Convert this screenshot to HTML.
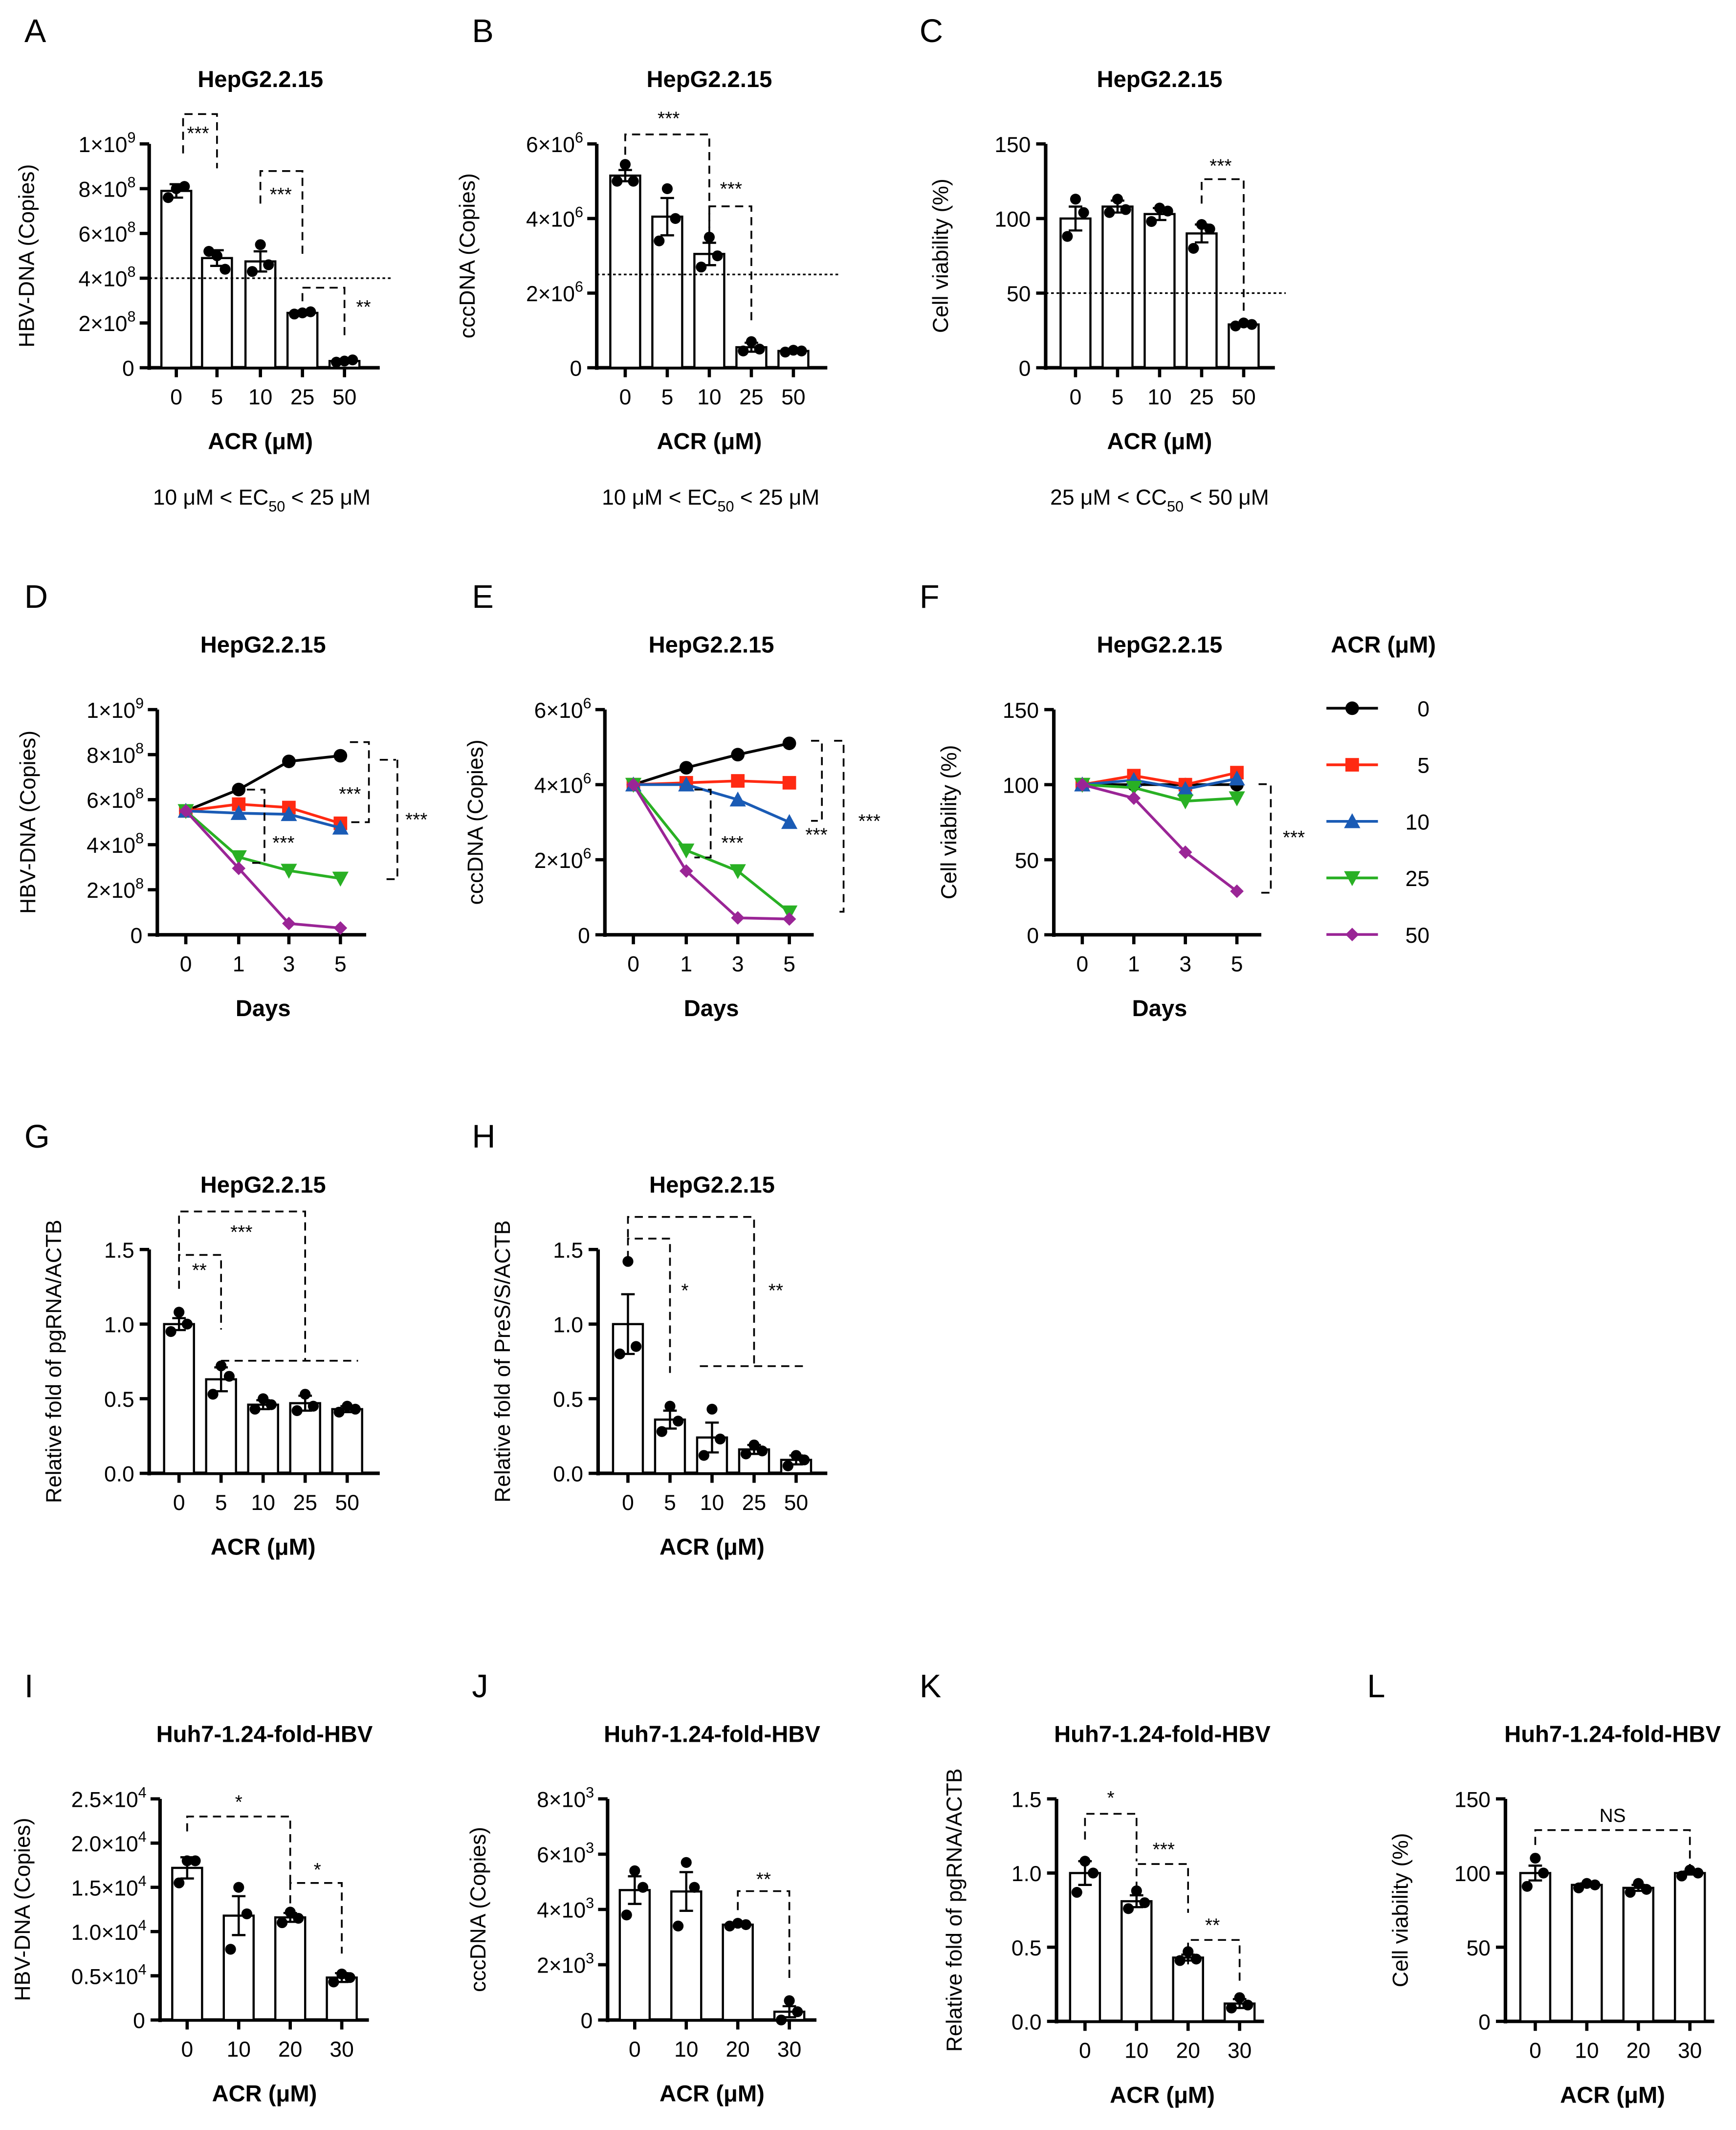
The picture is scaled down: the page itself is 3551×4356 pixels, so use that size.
<!DOCTYPE html>
<html><head><meta charset="utf-8"><style>
html,body{margin:0;padding:0;background:#fff;}
svg{display:block;font-family:"Liberation Sans",Arial,sans-serif;}
</style></head><body>
<svg id="fig" width="3551" height="4356" viewBox="0 0 1280 1570" xmlns="http://www.w3.org/2000/svg"></svg>
<script>
// ---------- DATA ----------
const doses5 = ["0","5","10","25","50"];
const doses4 = ["0","10","20","30"];
const days = ["0","1","3","5"];
const seriesNames = ["0","5","10","25","50"];
const seriesColors = ["#000000","#ff2a12","#1a5bb5","#29b024","#9a2596"];
const seriesMarkers = ["circle","square","triUp","triDown","diamond"];

const aMeans = [7.9, 4.9, 4.75, 2.45, 0.3];       // x1e8
const aErr   = [0.3, 0.35, 0.45, 0.1, 0.05];
const aPts   = [[7.6,8.1,8.0],[5.2,4.4,5.0],[4.3,4.6,5.5],[2.4,2.5,2.45],[0.25,0.35,0.3]];
const bMeans = [5.15, 4.05, 3.05, 0.55, 0.45];    // x1e6
const bErr   = [0.15, 0.5, 0.3, 0.12, 0.03];
const bPts   = [[5.0,5.0,5.45],[3.4,4.0,4.8],[2.7,3.0,3.5],[0.45,0.5,0.7],[0.42,0.45,0.47]];
const cMeans = [100, 108, 103, 90, 29];
const cErr   = [8, 4, 4, 6, 1];
const cPts   = [[88,104,113],[104,106,113],[98,105,107],[80,93,96],[28,29,30]];
const dLines = [[5.5,6.45,7.7,7.95],[5.5,5.8,5.65,4.95],[5.5,5.4,5.35,4.75],[5.5,3.45,2.85,2.5],[5.5,2.95,0.5,0.3]];
const eLines = [[4.0,4.45,4.8,5.1],[4.0,4.05,4.1,4.05],[4.0,4.0,3.6,3.0],[4.0,2.25,1.7,0.6],[4.0,1.7,0.45,0.42]];
const fLines = [[100,100,100,100],[100,106,100,108],[100,103,97,104],[100,98,89,91],[100,91,55,29]];
const gMeans = [1.0, 0.63, 0.46, 0.47, 0.43];
const gErr   = [0.04, 0.08, 0.03, 0.05, 0.02];
const gPts   = [[0.95,1.0,1.08],[0.53,0.65,0.72],[0.43,0.46,0.5],[0.42,0.45,0.53],[0.41,0.43,0.45]];
const hMeans = [1.0, 0.36, 0.24, 0.16, 0.09];
const hErr   = [0.2, 0.06, 0.1, 0.03, 0.03];
const hPts   = [[0.8,0.85,1.42],[0.28,0.35,0.45],[0.12,0.23,0.43],[0.13,0.15,0.19],[0.05,0.09,0.12]];
const iMeans = [1.72, 1.18, 1.16, 0.48];           // x1e4
const iErr   = [0.12, 0.22, 0.05, 0.05];
const iPts   = [[1.55,1.8,1.8],[0.8,1.2,1.5],[1.1,1.15,1.22],[0.43,0.48,0.52]];
const jMeans = [4.7, 4.65, 3.45, 0.3];             // x1e3
const jErr   = [0.5, 0.7, 0.05, 0.2];
const jPts   = [[3.8,4.8,5.4],[3.4,4.8,5.7],[3.4,3.45,3.5],[0,0.3,0.7]];
const kMeans = [1.0, 0.81, 0.43, 0.12];
const kErr   = [0.08, 0.04, 0.02, 0.03];
const kPts   = [[0.87,1.0,1.08],[0.76,0.8,0.88],[0.41,0.42,0.47],[0.09,0.11,0.16]];
const lMeans = [100, 92, 90, 100];
const lErr   = [5, 1, 2, 1];
const lPts   = [[91,100,110],[90,92,93],[87,89,93],[98,100,102]];

// ---------- HELPERS ----------
const NS="http://www.w3.org/2000/svg";
const svg=document.getElementById('fig');
function mk(tag,attrs,parent){const e=document.createElementNS(NS,tag);for(const k in attrs)e.setAttribute(k,attrs[k]);(parent||svg).appendChild(e);return e;}
function txt(x,y,s,opts,parent){opts=opts||{};const t=mk('text',{x:x,y:y,'font-size':opts.size||16,'text-anchor':opts.anchor||'middle','font-weight':opts.bold?'bold':'normal',fill:'#000'},parent);
 if(opts.rot)t.setAttribute('transform','rotate(-90 '+x+' '+y+')');t.textContent=s;return t;}
function sciLabel(x,y,m,e,parent){const t=mk('text',{x:x,y:y,'font-size':16,'text-anchor':'end'},parent);
 t.appendChild(document.createTextNode(m+'×10'));const s=mk('tspan',{'font-size':11,dy:-7},t);s.textContent=e;
 return t;}
function marker(g,type,x,y,c){let e;
 if(type==='circle')e=mk('circle',{cx:x,cy:y,r:5,fill:c},g);
 else if(type==='square')e=mk('rect',{x:x-5,y:y-5,width:10,height:10,fill:c},g);
 else if(type==='triUp')e=mk('polygon',{points:`${x},${y-6} ${x+6},${y+5} ${x-6},${y+5}`,fill:c},g);
 else if(type==='triDown')e=mk('polygon',{points:`${x},${y+6} ${x+6},${y-5} ${x-6},${y-5}`,fill:c},g);
 else e=mk('polygon',{points:`${x},${y-5} ${x+5},${y} ${x},${y+5} ${x-5},${y}`,fill:c},g);
 }
function bracket(g,pts,label,lx,ly){mk('polyline',{points:pts,fill:'none',stroke:'#000','stroke-width':1.3,'stroke-dasharray':'6,4'},g);
 if(label){const t=txt(lx,ly,label,{size:14},g);}}

function axes(g,c){
 const yS=v=>c.y0-(v-c.min)/(c.max-c.min)*(c.y0-c.y1);
 const ax=mk('line',{x1:c.ax,y1:c.y1,x2:c.ax,y2:c.y0+1.5,stroke:'#000','stroke-width':2.6},g);
 
 const bx=mk('line',{x1:c.ax-1.3,y1:c.y0,x2:c.xEnd,y2:c.y0,stroke:'#000','stroke-width':2.6},g);
 
 c.ticks.forEach((tv,i)=>{const y=yS(tv);mk('line',{x1:c.ax-7,y1:y,x2:c.ax,y2:y,stroke:'#000','stroke-width':2.4},g);
  const lab=c.tickLabels[i];
  if(Array.isArray(lab)){ if(lab[0]==='0'){const t=txt(c.ax-11,y+6,'0',{anchor:'end'},g);} else sciLabel(c.ax-10,y+6,lab[0],lab[1],g);}
  else {const t=txt(c.ax-11,y+6,lab,{anchor:'end'},g);}
 });
 c.xs.forEach((x,i)=>{mk('line',{x1:x,y1:c.y0,x2:x,y2:c.y0+7,stroke:'#000','stroke-width':2.4},g);
  const t=txt(x,c.y0+27,c.cats[i],{},g);});
 const yt=txt(c.ax-c.ylOff,(c.y0+c.y1)/2,c.ylabel,{size:16,rot:true},g);
 
 const xt=txt((c.xs[0]+c.xs[c.xs.length-1])/2,c.y0+60,c.xlabel,{size:17,bold:true},g);
 
 const tt=txt((c.xs[0]+c.xs[c.xs.length-1])/2,c.y1-42,c.title,{size:17,bold:true},g);
 
 const pl=txt(c.letterX,c.y1-75,c.letter,{size:24,anchor:'start'},g);
 
 return yS;
}
function barPanel(name,c,means,errs,pts){
 const g=mk('g',{});
 const yS=axes(g,c);
 means.forEach((m,i)=>{const x=c.xs[i];const w=22;
  const b=mk('rect',{x:x-w/2,y:yS(m),width:w,height:c.y0-yS(m),fill:'#fff',stroke:'#000','stroke-width':1.6},g);
  
  const e=errs[i];
  mk('path',{d:`M${x} ${yS(m)} V${yS(m+e)} M${x-5} ${yS(m+e)} H${x+5} M${x} ${yS(m)} V${yS(Math.max(c.min,m-e))} M${x-5} ${yS(Math.max(c.min,m-e))} H${x+5}`,stroke:'#000','stroke-width':1.6,fill:'none'},g);
  const offs=[-6,0,6];
  pts[i].forEach((p,k)=>{const d=mk('circle',{cx:x+offs[[0,2,1][k]]*1.0,cy:yS(p),r:4,fill:'#000'},g);});
 });
 if(c.ref!==undefined){const l=mk('line',{x1:c.ax,y1:yS(c.ref),x2:c.xEnd+8,y2:yS(c.ref),stroke:'#000','stroke-width':1.2,'stroke-dasharray':'2,2'},g);
  }
 return g;
}
function linePanel(name,c,lines){
 const g=mk('g',{});
 const yS=axes(g,c);
 lines.forEach((vals,s)=>{const col=seriesColors[s];
  const p=mk('polyline',{points:vals.map((v,i)=>c.xs[i]+','+yS(v)).join(' '),fill:'none',stroke:col,'stroke-width':2},g);
  
  vals.forEach((v,i)=>marker(g,seriesMarkers[s],c.xs[i],yS(v),col));
 });
 return g;
}

// ---------- PANELS ----------
const sc8=[['0'],['2','8'],['4','8'],['6','8'],['8','8'],['1','9']];
const sc6=[['0'],['2','6'],['4','6'],['6','6']];
const gA=barPanel('panel-a',{ax:110,y0:271,y1:106,min:0,max:10,ticks:[0,2,4,6,8,10],tickLabels:sc8,xs:[130,160,192,223,254],cats:doses5,xEnd:280,ylabel:'HBV-DNA (Copies)',ylOff:85,xlabel:'ACR (μM)',title:'HepG2.2.15',letter:'A',letterX:18,ref:4},aMeans,aErr,aPts);
const gB=barPanel('panel-b',{ax:440,y0:271,y1:106,min:0,max:6,ticks:[0,2,4,6],tickLabels:sc6,xs:[461,492,523,554,585],cats:doses5,xEnd:610,ylabel:'cccDNA (Copies)',ylOff:90,xlabel:'ACR (μM)',title:'HepG2.2.15',letter:'B',letterX:348,ref:2.5},bMeans,bErr,bPts);
const gC=barPanel('panel-c',{ax:771,y0:271,y1:106,min:0,max:150,ticks:[0,50,100,150],tickLabels:['0','50','100','150'],xs:[793,824,855,886,917],cats:doses5,xEnd:940,ylabel:'Cell viability (%)',ylOff:72,xlabel:'ACR (μM)',title:'HepG2.2.15',letter:'C',letterX:678,ref:50},cMeans,cErr,cPts);
const gD=linePanel('panel-d',{ax:116,y0:689,y1:523,min:0,max:10,ticks:[0,2,4,6,8,10],tickLabels:sc8,xs:[137,176,213,251],cats:days,xEnd:270,ylabel:'HBV-DNA (Copies)',ylOff:90,xlabel:'Days',title:'HepG2.2.15',letter:'D',letterX:18},dLines);
const gE=linePanel('panel-e',{ax:446,y0:689,y1:523,min:0,max:6,ticks:[0,2,4,6],tickLabels:sc6,xs:[467,506,544,582],cats:days,xEnd:600,ylabel:'cccDNA (Copies)',ylOff:90,xlabel:'Days',title:'HepG2.2.15',letter:'E',letterX:348},eLines);
const gF=linePanel('panel-f',{ax:777,y0:689,y1:523,min:0,max:150,ticks:[0,50,100,150],tickLabels:['0','50','100','150'],xs:[798,836,874,912],cats:days,xEnd:930,ylabel:'Cell viability (%)',ylOff:72,xlabel:'Days',title:'HepG2.2.15',letter:'F',letterX:678},fLines);
const gG=barPanel('panel-g',{ax:110,y0:1086,y1:921,min:0,max:1.5,ticks:[0,0.5,1,1.5],tickLabels:['0.0','0.5','1.0','1.5'],xs:[132,163,194,225,256],cats:doses5,xEnd:280,ylabel:'Relative fold of pgRNA/ACTB',ylOff:65,xlabel:'ACR (μM)',title:'HepG2.2.15',letter:'G',letterX:18},gMeans,gErr,gPts);
const gH=barPanel('panel-h',{ax:441,y0:1086,y1:921,min:0,max:1.5,ticks:[0,0.5,1,1.5],tickLabels:['0.0','0.5','1.0','1.5'],xs:[463,494,525,556,587],cats:doses5,xEnd:610,ylabel:'Relative fold of PreS/S/ACTB',ylOff:65,xlabel:'ACR (μM)',title:'HepG2.2.15',letter:'H',letterX:348},hMeans,hErr,hPts);
const sc4=[['0'],['0.5','4'],['1.0','4'],['1.5','4'],['2.0','4'],['2.5','4']];
const gI=barPanel('panel-i',{ax:118,y0:1489,y1:1326,min:0,max:2.5,ticks:[0,0.5,1,1.5,2,2.5],tickLabels:sc4,xs:[138,176,214,252],cats:doses4,xEnd:272,ylabel:'HBV-DNA (Copies)',ylOff:96,xlabel:'ACR (μM)',title:'Huh7-1.24-fold-HBV',letter:'I',letterX:18},iMeans,iErr,iPts);
const sc3=[['0'],['2','3'],['4','3'],['6','3'],['8','3']];
const gJ=barPanel('panel-j',{ax:448,y0:1489,y1:1326,min:0,max:8,ticks:[0,2,4,6,8],tickLabels:sc3,xs:[468,506,544,582],cats:doses4,xEnd:602,ylabel:'cccDNA (Copies)',ylOff:90,xlabel:'ACR (μM)',title:'Huh7-1.24-fold-HBV',letter:'J',letterX:348},jMeans,jErr,jPts);
const gK=barPanel('panel-k',{ax:779,y0:1490,y1:1326,min:0,max:1.5,ticks:[0,0.5,1,1.5],tickLabels:['0.0','0.5','1.0','1.5'],xs:[800,838,876,914],cats:doses4,xEnd:932,ylabel:'Relative fold of pgRNA/ACTB',ylOff:70,xlabel:'ACR (μM)',title:'Huh7-1.24-fold-HBV',letter:'K',letterX:678},kMeans,kErr,kPts);
const gL=barPanel('panel-l',{ax:1110,y0:1490,y1:1326,min:0,max:150,ticks:[0,50,100,150],tickLabels:['0','50','100','150'],xs:[1132,1170,1208,1246],cats:doses4,xEnd:1264,ylabel:'Cell viability (%)',ylOff:72,xlabel:'ACR (μM)',title:'Huh7-1.24-fold-HBV',letter:'L',letterX:1008},lMeans,lErr,lPts);

// footnotes (EC50/CC50)
function foot(x,pre,sub,post,name){const t=mk('text',{x:x,y:372,'font-size':16,'text-anchor':'middle'});
 t.appendChild(document.createTextNode(pre));const s=mk('tspan',{'font-size':11,dy:5},t);s.textContent=sub;const r=mk('tspan',{dy:-5},t);r.textContent=post;}
foot(193,'10 μM < EC','50',' < 25 μM','ec50-note-a');
foot(524,'10 μM < EC','50',' < 25 μM','ec50-note-b');
foot(855,'25 μM < CC','50',' < 50 μM','cc50-note-c');

// significance brackets
bracket(gA,'135,113 135,84 160,84 160,124','***',146,103);
bracket(gA,'192,150 192,126 223,126 223,188','***',207,148);
bracket(gA,'223,222 223,212 254,212 254,250','**',268,231);
bracket(gB,'461,114 461,99 523,99 523,170','***',493,92);
bracket(gB,'523,173 523,152 554,152 554,237','***',539,144);
bracket(gC,'886,150 886,132 917,132 917,230','***',900,127);
bracket(gD,'182,582 195,582 195,636 182,636','***',209,626);
bracket(gD,'258,547 272,547 272,606 258,606','***',258,590);
bracket(gD,'293,560 293,560 293,648 281,648','***',307,609);
bracket(gD,'280,560 292,560','',0,0);
bracket(gE,'512,582 524,582 524,632 512,632','***',540,626);
bracket(gE,'598,546 606,546 606,605 598,605','***',602,620);
bracket(gE,'615,546 622,546 622,672 615,672','***',641,610);
bracket(gF,'928,578 937,578 937,658 928,658','***',954,622);
bracket(gG,'132,950 132,925 163,925 163,980','**',147,941);
bracket(gG,'132,922 132,893 225,893 225,1003','***',178,913);
bracket(gG,'163,1003 264,1003','',0,0);
bracket(gH,'463,928 463,913 494,913 494,1012','*',505,956);
bracket(gH,'463,912 463,897 556,897 556,1007','**',572,956);
bracket(gH,'516,1007 596,1007','',0,0);
bracket(gI,'138,1350 138,1339 214,1339 214,1393','*',176,1333);
bracket(gI,'214,1403 214,1388 252,1388 252,1440','*',234,1383);
bracket(gJ,'544,1408 544,1394 582,1394 582,1460','**',563,1390);
bracket(gK,'800,1356 800,1337 838,1337 838,1372','*',819,1330);
bracket(gK,'838,1393 838,1374 876,1374 876,1410','***',858,1368);
bracket(gK,'876,1448 876,1430 914,1430 914,1460','**',894,1424);
bracket(gL,'1132,1360 1132,1349 1246,1349 1246,1377','NS',1189,1343);

// legend
const lg=mk('g',{});
const lt=txt(1020,481,'ACR (μM)',{size:17,bold:true},lg);
seriesNames.forEach((n,i)=>{const y=522+i*41.7;
 const e=mk('g',{},lg);
 mk('line',{x1:978,y1:y,x2:1016,y2:y,stroke:seriesColors[i],'stroke-width':2},e);
 marker(e,seriesMarkers[i],997,y,seriesColors[i]);
 const t=txt(1054,y+6,n,{anchor:'end'},e);});
</script>
</body></html>
